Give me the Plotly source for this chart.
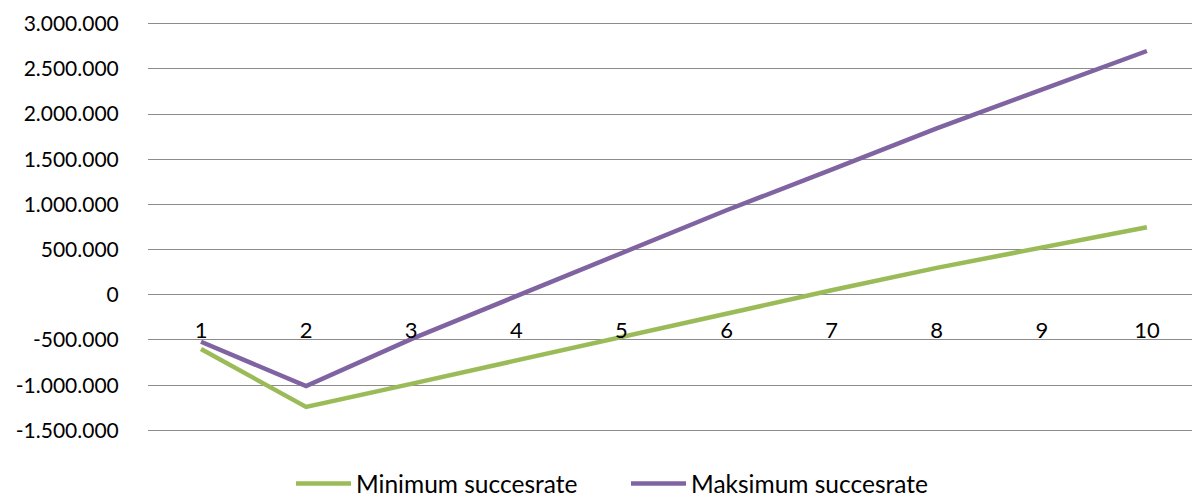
import plotly.graph_objects as go

categories = [1, 2, 3, 4, 5, 6, 7, 8, 9, 10]
min_values = [-600000, -1240000, -985000, -725000, -465000, -205000, 50000, 298000, 525000, 748000]
max_values = [-520000, -1010000, -490000, -12000, 458000, 935000, 1385000, 1842000, 2270000, 2697000]
series_names = ["Minimum succesrate", "Maksimum succesrate"]
y_ticks = [-1500000, -1000000, -500000, 0, 500000, 1000000, 1500000, 2000000, 2500000, 3000000]
y_ticklabels = ["-1.500.000", "-1.000.000", "-500.000", "0", "500.000", "1.000.000",
                "1.500.000", "2.000.000", "2.500.000", "3.000.000"]

FONT = "Lato"
W, H = 1192, 493
PAD = 40000
Y0, Y1 = -1500000 - PAD, 3000000 + PAD
PX_PER_UNIT = 406 / 4500000
MT = round(24 - PAD * PX_PER_UNIT)
MB = round(H - 430 - PAD * PX_PER_UNIT)
ML, MR = 148, 0
PLOT_H = H - MT - MB
PLOT_BOTTOM = H - MB

fig = go.Figure()
fig.add_trace(go.Scatter(x=categories, y=min_values, mode="lines", name=series_names[0],
                         line=dict(color="#9BBB59", width=4.5)))
fig.add_trace(go.Scatter(x=categories, y=max_values, mode="lines", name=series_names[1],
                         line=dict(color="#8064A2", width=4.5)))

px_per_cat = 105.1
x0 = 1 - (201 - ML) / px_per_cat
x1 = 1 + (W - MR - 201) / px_per_cat

fig.update_layout(
    width=W, height=H,
    margin=dict(l=ML, r=MR, t=MT, b=MB, autoexpand=False),
    paper_bgcolor="white", plot_bgcolor="white",
    font=dict(family=FONT, size=21, color="black"),
    showlegend=True,
    legend=dict(orientation="h", xref="container", x=291/W, xanchor="left",
                yref="paper", y=-(461 - PLOT_BOTTOM) / PLOT_H, yanchor="top",
                font=dict(family=FONT, size=24.5, color="black"),
                itemwidth=55, tracegroupgap=0, entrywidth=265),
    xaxis=dict(
        range=[x0, x1], tickmode="array", tickvals=categories,
        ticktext=[str(c) for c in categories],
        anchor="free", position=(0 - Y0) / (Y1 - Y0),
        showgrid=False, zeroline=False, showline=False,
        ticks="outside", ticklen=16, tickcolor="rgba(0,0,0,0)",
        tickfont=dict(family=FONT, size=22, color="black"),
    ),
    yaxis=dict(
        range=[Y0, Y1], tickmode="array", tickvals=y_ticks, ticktext=y_ticklabels,
        showgrid=True, gridcolor="#8c8c8c", gridwidth=1.3,
        zeroline=True, zerolinecolor="#8c8c8c", zerolinewidth=1.3,
        showline=False,
        ticks="outside", ticklen=24, tickcolor="rgba(0,0,0,0)",
        tickfont=dict(family=FONT, size=21, color="black"),
    ),
)

fig.write_html("out.html")
